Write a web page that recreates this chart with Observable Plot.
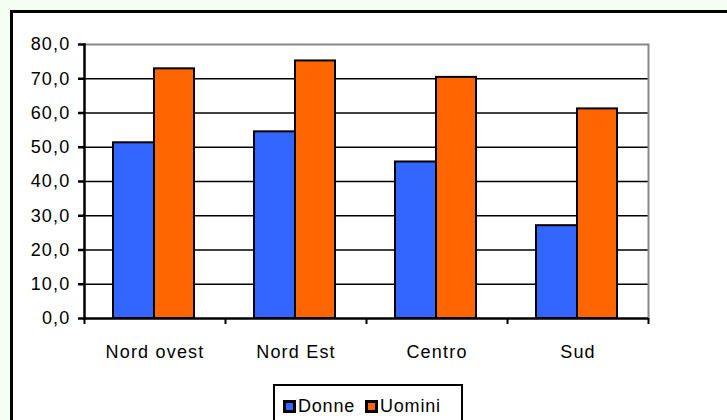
<!DOCTYPE html>
<html>
<head>
<meta charset="utf-8">
<script src="https://cdn.jsdelivr.net/npm/d3@7"></script>
<script src="https://cdn.jsdelivr.net/npm/@observablehq/plot@0.6"></script>
<style>
  html, body { margin: 0; padding: 0; width: 727px; height: 420px; overflow: hidden; background: #f3fff3; font-family: "Liberation Sans", Arial, sans-serif; }
  #frame { position: absolute; left: 10px; top: 10px; width: 760px; height: 460px; border: 3px solid #000; background: #fff; }
  #chart { position: absolute; left: 0; top: 0; }
  #legend { position: absolute; left: 273px; top: 384px; width: 186px; height: 50px; border: 2.5px solid #000; background: #fff; font-size: 18px; letter-spacing: 0.8px; color: #000; }
  .item { position: absolute; top: 10px; display: flex; align-items: center; }
  .sw { width: 7px; height: 7px; border: 3px solid #000; margin-right: 2px; }
</style>
</head>
<body>
<div id="frame"></div>
<div id="chart"></div>
<div id="legend"></div>
<script>
const regions = ["Nord ovest", "Nord Est", "Centro", "Sud"];
const donne = [51.3, 54.5, 45.7, 27.1];
const uomini = [72.9, 75.2, 70.4, 61.2];
const seriesNames = ["Donne", "Uomini"];
const seriesColors = ["#3366ff", "#ff6600"];
const yTicks = [0, 10, 20, 30, 40, 50, 60, 70, 80];

const dataD = regions.map((r, i) => ({region: r, value: donne[i]}));
const dataU = regions.map((r, i) => ({region: r, value: uomini[i]}));
const half = 141 / 2;

const chart = Plot.plot({
  width: 727,
  height: 370,
  marginLeft: 84,
  marginRight: 79,
  marginTop: 44,
  marginBottom: 52,
  style: {fontFamily: "'Liberation Sans', Arial, sans-serif", fontSize: "18px", letterSpacing: "1.2px", color: "#000", background: "transparent", overflow: "visible"},
  x: {domain: regions, padding: 0, label: null},
  y: {domain: [0, 80], label: null},
  marks: [
    Plot.ruleY(yTicks.filter(d => d > 0 && d < 80), {stroke: "#000", strokeWidth: 1.6}),
    Plot.ruleY([80], {stroke: "#888", strokeWidth: 2}),
    Plot.frame({anchor: "right", stroke: "#888", strokeWidth: 2}),
    Plot.barY(dataD, {x: "region", y: "value", fill: seriesColors[0], stroke: "#000", strokeWidth: 2, insetLeft: 29, insetRight: 71}),
    Plot.barY(dataU, {x: "region", y: "value", fill: seriesColors[1], stroke: "#000", strokeWidth: 2, insetLeft: 70, insetRight: 31}),
    Plot.ruleY([0], {stroke: "#000", strokeWidth: 2.5}),
    Plot.frame({anchor: "left", stroke: "#000", strokeWidth: 2.5}),
    Plot.ruleX(regions, {x: d => d, y1: 0, y2: 0, dx: -half, insetBottom: -6, stroke: "#000", strokeWidth: 2}),
    Plot.ruleX(regions.slice(-1), {x: d => d, y1: 0, y2: 0, dx: half, insetBottom: -6, stroke: "#000", strokeWidth: 2}),
    Plot.axisY({ticks: yTicks, tickSize: 6, tickPadding: 8, tickFormat: d => d.toFixed(1).replace(".", ","), strokeWidth: 2.5, label: null}),
    Plot.axisX({tickSize: 0, tickPadding: 27, label: null})
  ]
});
document.getElementById("chart").append(chart);

const legend = document.getElementById("legend");
const lefts = [8, 90];
seriesNames.forEach((name, i) => {
  const it = document.createElement("div");
  it.className = "item";
  it.style.left = lefts[i] + "px";
  const sw = document.createElement("div");
  sw.className = "sw";
  sw.style.background = seriesColors[i];
  const tx = document.createElement("span");
  tx.textContent = name;
  it.append(sw, tx);
  legend.append(it);
});
</script>
</body>
</html>
